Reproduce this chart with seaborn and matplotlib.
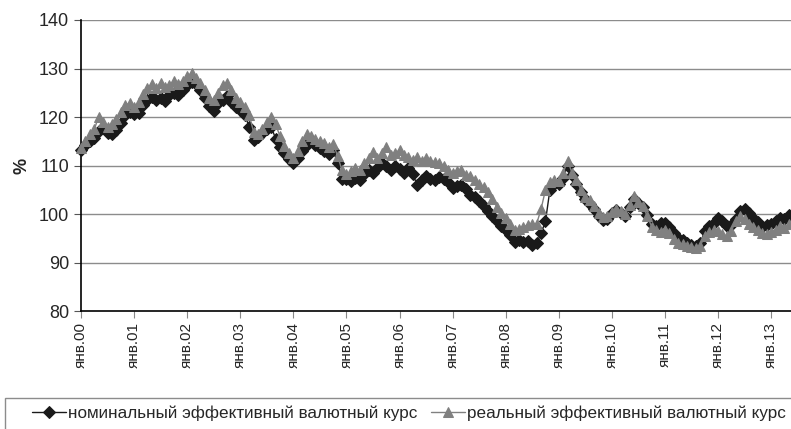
import numpy as np
import pandas as pd
import seaborn as sns
import matplotlib.pyplot as plt
from matplotlib.patches import Rectangle

"""
Data: monthly effective exchange rate indices, Jan 2000 - May 2013
"""
nominal_2000_2004 = [113.2, 114.3, 115.0, 115.6, 117.2, 117.8, 116.8, 116.4, 117.3, 118.8, 120.5, 121.0,
                     120.6, 120.9, 122.4, 123.5, 124.2, 123.6, 124.0, 123.2, 124.5, 125.0, 124.6, 125.6,
                     126.5, 127.3, 126.8, 125.6, 124.0, 122.3, 121.3, 122.8, 123.6, 124.3, 123.0, 122.0,
                     121.5, 120.5, 118.0, 115.3, 115.8, 116.8, 117.5, 118.0, 115.5, 113.8, 112.5, 111.3,
                     110.5, 111.5, 113.0, 114.2, 115.2, 114.3, 113.6, 113.0, 112.4, 113.2, 110.5, 107.2]
nominal_2005_2009 = [107.2, 106.8, 107.4, 107.0, 108.2, 109.0, 108.5, 109.4, 110.6, 109.8, 109.0, 110.0,
                     109.2, 108.5, 109.4, 108.2, 106.0, 107.0, 107.8, 107.2, 107.0, 107.6, 107.3, 106.5,
                     105.3, 105.8, 106.0, 105.2, 104.0, 103.5, 102.6, 101.6, 100.6, 99.5, 98.6, 97.6,
                     96.8, 95.6, 94.3, 94.6, 94.2, 94.5, 93.7, 94.0, 96.0, 98.5, 105.0, 106.2,
                     106.2, 107.5, 110.0, 108.0, 106.2, 104.5, 103.0, 102.0, 101.0, 99.5, 98.8, 99.0]
nominal_2010_2013 = [100.2, 100.8, 100.3, 99.6, 101.4, 103.0, 102.2, 101.4, 99.8, 98.0, 97.6, 98.2,
                     98.2, 97.4, 96.0, 95.0, 94.6, 94.0, 93.6, 93.5, 94.0, 96.5, 97.5, 98.2,
                     99.2, 98.5, 97.6, 97.8, 99.0, 100.6, 101.0, 100.2, 99.2, 98.4, 97.4, 97.8,
                     98.0, 98.6, 99.2, 99.0, 99.8]

real_2000_2004 = [113.6, 115.0, 116.5, 117.5, 120.0, 119.0, 118.0, 118.5, 119.5, 121.0, 122.5, 122.8,
                  122.0, 123.0, 124.8, 126.0, 126.8, 126.0, 127.0, 126.2, 126.5, 127.5, 126.8, 127.5,
                  128.5, 129.0, 128.0, 127.0, 125.5, 124.0, 123.5, 125.0, 126.5, 127.0, 125.5, 124.0,
                  123.0, 122.0, 120.5, 117.0, 116.5, 117.5, 119.0, 120.0, 118.5, 116.0, 114.0, 112.5,
                  111.5, 113.0, 115.0, 116.5, 116.0, 115.5, 115.0, 114.6, 113.8, 114.5, 112.0, 109.0]
real_2005_2009 = [108.2, 108.8, 109.5, 109.0, 110.5, 111.5, 112.8, 111.5, 112.5, 113.8, 112.2, 112.5,
                  113.2, 112.2, 111.8, 111.2, 111.8, 111.0, 111.5, 111.0, 110.8, 110.5, 109.8, 109.0,
                  108.5, 108.8, 109.0, 108.0, 107.8, 107.0, 106.2, 105.5, 104.5, 103.0, 101.5, 100.3,
                  99.2, 98.0, 96.8, 97.0, 97.3, 97.8, 98.0, 98.0, 101.0, 105.0, 106.5, 107.0,
                  106.8, 108.5, 111.0, 108.5, 107.0, 105.0, 103.5, 102.8, 101.6, 100.3, 99.3, 99.6]
real_2010_2013 = [100.5, 101.0, 100.6, 99.9, 101.8, 103.8, 102.5, 101.6, 99.6, 97.4, 96.8, 96.2,
                  96.6, 96.0, 94.8, 94.0, 93.8, 93.3, 93.2, 93.0, 93.4, 95.5, 96.2, 96.6,
                  96.4, 95.8, 95.4, 96.5, 98.5, 99.6, 99.0, 98.0, 97.3, 96.6, 96.0, 95.8,
                  96.2, 96.8, 97.5, 97.2, 98.0]

tick_labels = ['янв.00', 'янв.01', 'янв.02', 'янв.03', 'янв.04', 'янв.05', 'янв.06',
               'янв.07', 'янв.08', 'янв.09', 'янв.10', 'янв.11', 'янв.12', 'янв.13']
label_nom = 'номинальный эффективный валютный курс'
label_real = 'реальный эффективный валютный курс'

nominal = nominal_2000_2004 + nominal_2005_2009 + nominal_2010_2013
real = real_2000_2004 + real_2005_2009 + real_2010_2013
df = pd.DataFrame({'month': np.arange(len(nominal)), 'nominal': nominal, 'real': real})

"""
Plot
"""
sns.set_style("white")
plt.rcParams['font.family'] = ['Liberation Sans', 'DejaVu Sans']

fig = plt.figure(figsize=(7.91, 4.29), dpi=100)
ax = fig.add_axes([81 / 791, 1 - 311 / 429, 1 - 81 / 791, 291 / 429])

for y in range(90, 141, 10):
    ax.axhline(y, color='#8c8c8c', lw=1, zorder=0)

sns.lineplot(data=df, x='month', y='nominal', ax=ax, color='#1a1a1a', lw=1,
             marker='D', markersize=6, markeredgecolor='#1a1a1a', label=label_nom,
             clip_on=False, zorder=3)
sns.lineplot(data=df, x='month', y='real', ax=ax, color='#808080', lw=1,
             marker='^', markersize=7.5, markeredgecolor='#808080', label=label_real,
             clip_on=False, zorder=4)

ax.set_xlim(0, 160.5)
ax.set_ylim(80, 140)
ax.set_yticks(range(80, 141, 10))
ax.set_xticks(np.arange(len(tick_labels)) * 12)
ax.set_xticklabels(tick_labels, rotation=90, fontsize=11)
ax.tick_params(axis='y', labelsize=13, length=5, direction='out', color='#555555', left=True)
ax.tick_params(axis='x', length=5, direction='out', color='#888888', bottom=True, pad=3)
ax.set_xlabel('')
ax.set_ylabel('%', fontsize=13, fontweight='bold', labelpad=6)

for side in ['top', 'right']:
    ax.spines[side].set_visible(False)
for side in ['left', 'bottom']:
    ax.spines[side].set_color('black')
    ax.spines[side].set_linewidth(1.2)

# legend box spans the full width below the chart
fig.patches.append(Rectangle((5 / 791, -0.02), 1.0, (429 - 398) / 429 + 0.02,
                             transform=fig.transFigure, fill=False,
                             edgecolor='#8c8c8c', lw=1))
ax.get_legend().remove()
handles, labels = ax.get_legend_handles_labels()
leg = fig.legend(handles, labels, loc='center', ncol=2, fontsize=12.3,
                 bbox_to_anchor=(409 / 791, 1 - 413 / 429), frameon=False,
                 handlelength=2.0, handletextpad=0.1, columnspacing=0.8)

fig.savefig('out.png', dpi=100)
